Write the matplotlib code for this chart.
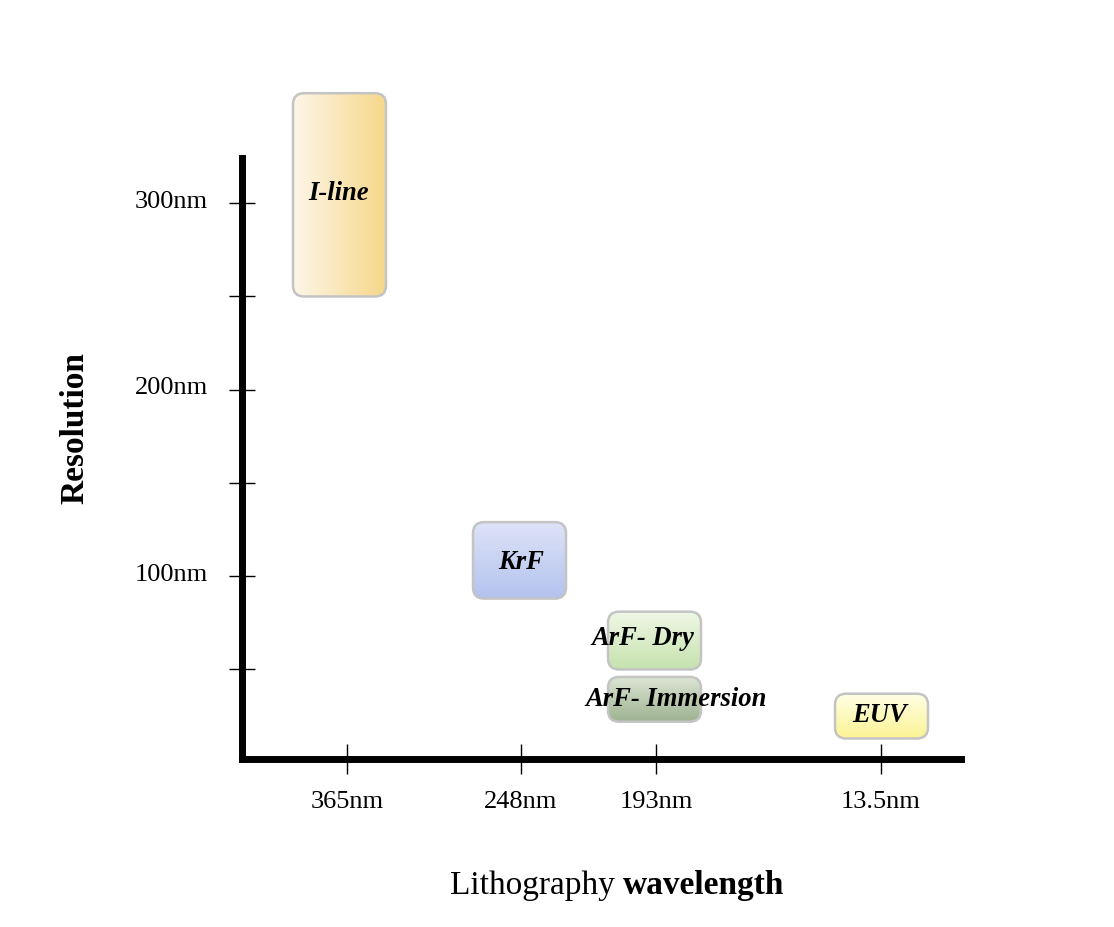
import numpy as np
import matplotlib
matplotlib.use("Agg")
import matplotlib.pyplot as plt
from matplotlib.patches import FancyBboxPatch
from matplotlib.colors import to_rgb
from matplotlib.transforms import ScaledTranslation

# ---------------- data ----------------
categories = ['I-line', 'KrF', 'ArF- Dry', 'ArF- Immersion', 'EUV']
wavelength_labels = ['365nm', '248nm', '193nm', '13.5nm']
wavelength_pos = [1.05, 2.79, 4.14, 6.39]
res_low = [250, 88, 50, 22, 13]
res_high = [359, 129, 81, 46, 37]
box_left = [0.51, 2.31, 3.66, 3.66, 5.93]
label_x = [0.97, 2.79, 4.01, 4.34, 6.38]
label_y = [306, 108, 67, 34.6, 26]
res_ticks = [50, 100, 150, 200, 250, 300]
res_ticklabels = ['', '100nm', '', '200nm', '', '300nm']

# ---------------- style ----------------
box_width = 0.93
colors_a = ['#FDF6E8', '#DDE3F7', '#EFF8E6', '#DCE5D4', '#FFFFE6']
colors_b = ['#F6D78A', '#B3C2EE', '#C6E2AE', '#9DB290', '#FBF394']
horizontal = [True, False, False, False, False]
serif = ['Liberation Serif', 'DejaVu Serif']

W, H = 1114, 928
fig = plt.figure(figsize=(W / 100, H / 100), dpi=100)
ax_left, ax_bottom_px, ax_w_px = 242, 760, 719
xlim = (0, 7.19)
ylim = (2, 370)
px_per_y = 1.865
ax_h_px = (ylim[1] - ylim[0]) * px_per_y
ax = fig.add_axes([ax_left / W, (H - ax_bottom_px) / H, ax_w_px / W, ax_h_px / H])
ax.set_xlim(*xlim)
ax.set_ylim(*ylim)

px_per_x = ax_w_px / (xlim[1] - xlim[0])
m_aspect = px_per_x / px_per_y
radius = 0.11

for i, name in enumerate(categories):
    l = box_left[i]
    b = res_low[i]
    h = res_high[i] - res_low[i]
    ca, cb = np.array(to_rgb(colors_a[i])), np.array(to_rgb(colors_b[i]))
    t = np.linspace(0, 1, 256)
    grad = ca[None, :] * (1 - t[:, None]) + cb[None, :] * t[:, None]
    if horizontal[i]:
        img = grad[None, :, :]
    else:
        img = grad[:, None, :]
    patch = FancyBboxPatch((l, b), box_width, h,
                           boxstyle=f"round,pad=0,rounding_size={radius}",
                           mutation_aspect=m_aspect, facecolor='none',
                           edgecolor='#C4C4C4', linewidth=1.8, zorder=3)
    ax.add_patch(patch)
    im = ax.imshow(img, extent=[l, l + box_width, b, b + h], origin='upper',
                   aspect='auto', zorder=2, interpolation='bilinear')
    im.set_clip_path(patch)
    ax.text(label_x[i], label_y[i], name, ha='center', va='center',
            fontsize=19.2, fontweight='bold', fontstyle='italic',
            family=serif, zorder=4)

ax.set_xlim(*xlim)
ax.set_ylim(*ylim)

for s in ['top', 'right']:
    ax.spines[s].set_visible(False)
for s in ['left', 'bottom']:
    ax.spines[s].set_linewidth(5)
    ax.spines[s].set_capstyle('projecting')
ax.spines['left'].set_bounds(ylim[0], 324)

ax.set_xticks(wavelength_pos)
ax.set_xticklabels(wavelength_labels, family=serif, fontsize=19)
ax.set_yticks(res_ticks)
ax.set_yticklabels(res_ticklabels, family=serif, fontsize=19)
ax.tick_params(axis='y', direction='inout', length=19, width=1, pad=15)
ax.tick_params(axis='x', direction='inout', length=21, width=1, pad=12)
shift = ScaledTranslation(0, 5 / 100, fig.dpi_scale_trans)
for lab in ax.get_yticklabels():
    lab.set_transform(lab.get_transform() + shift)

fig.text(75 / W, (H - 428) / H, 'Resolution', rotation=90, ha='center',
         va='center', fontsize=24, fontweight='bold', family=serif)
t1 = fig.text(450 / W, (H - 894) / H, 'Lithography', ha='left',
              va='baseline', fontsize=24, family=serif)
fig.canvas.draw()
ax.annotate('wavelength', xy=(1, 0), xycoords=t1, xytext=(6, 0),
            textcoords='offset points', ha='left', va='bottom',
            fontsize=24, fontweight='bold', family=serif,
            annotation_clip=False)

fig.savefig('out.png', dpi=100, facecolor='white')
